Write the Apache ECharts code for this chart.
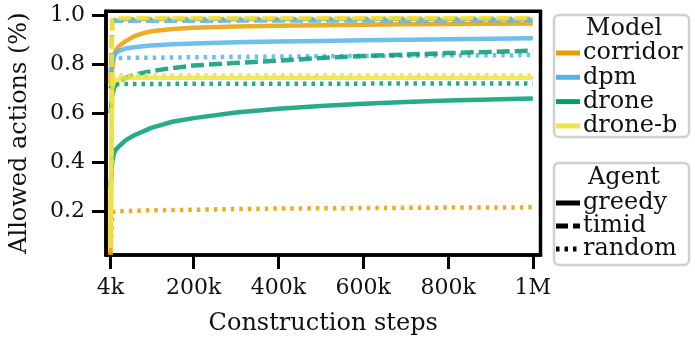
<!DOCTYPE html>
<html>
<head>
<meta charset="utf-8">
<script src="https://cdn.jsdelivr.net/npm/echarts@6/dist/echarts.min.js"></script>
<style>html,body{margin:0;padding:0;background:#fff;}#c{width:695px;height:341px;}</style>
</head>
<body>
<div id="c"></div>
<script>
// ---- data ----
const steps = [4000, 8000, 12000, 16000, 24000, 40000, 60000, 80000, 100000, 150000, 200000, 300000, 400000, 500000, 600000, 700000, 800000, 900000, 1000000];

const corridorGreedy = [0.02, 0.78, 0.83, 0.855, 0.875, 0.895, 0.915, 0.927, 0.935, 0.945, 0.950, 0.955, 0.958, 0.960, 0.962, 0.964, 0.965, 0.966, 0.967];
const corridorTimid  = [0.72, 0.975, 0.980, 0.982, 0.983, 0.984, 0.984, 0.985, 0.985, 0.985, 0.986, 0.986, 0.986, 0.986, 0.987, 0.987, 0.987, 0.987, 0.987];
const corridorRandom = [0.02, 0.195, 0.197, 0.198, 0.199, 0.200, 0.201, 0.202, 0.203, 0.204, 0.205, 0.208, 0.210, 0.211, 0.212, 0.213, 0.214, 0.214, 0.215];

const dpmGreedy = [0.77, 0.81, 0.83, 0.845, 0.855, 0.865, 0.870, 0.874, 0.877, 0.882, 0.885, 0.890, 0.893, 0.896, 0.899, 0.901, 0.903, 0.905, 0.907];
const dpmTimid  = [0.97, 0.976, 0.977, 0.977, 0.978, 0.978, 0.978, 0.978, 0.978, 0.978, 0.978, 0.979, 0.979, 0.979, 0.979, 0.979, 0.980, 0.980, 0.980];
const dpmRandom = [0.82, 0.825, 0.826, 0.826, 0.826, 0.826, 0.827, 0.827, 0.827, 0.828, 0.829, 0.830, 0.832, 0.833, 0.834, 0.835, 0.836, 0.837, 0.838];

const droneGreedy = [0.30, 0.40, 0.435, 0.45, 0.465, 0.49, 0.51, 0.525, 0.54, 0.565, 0.58, 0.603, 0.618, 0.630, 0.639, 0.646, 0.652, 0.656, 0.660];
const droneTimid  = [0.60, 0.67, 0.70, 0.715, 0.73, 0.745, 0.757, 0.765, 0.772, 0.785, 0.795, 0.806, 0.815, 0.826, 0.834, 0.840, 0.846, 0.851, 0.856];
const droneRandom = [0.70, 0.718, 0.719, 0.720, 0.720, 0.720, 0.720, 0.720, 0.720, 0.720, 0.721, 0.721, 0.721, 0.721, 0.721, 0.722, 0.722, 0.722, 0.722];

const dronebGreedy = [0.05, 0.70, 0.725, 0.735, 0.740, 0.743, 0.745, 0.745, 0.745, 0.745, 0.745, 0.745, 0.745, 0.745, 0.745, 0.745, 0.745, 0.745, 0.745];
const dronebTimid  = [0.20, 0.985, 0.988, 0.989, 0.990, 0.990, 0.990, 0.990, 0.990, 0.990, 0.990, 0.990, 0.990, 0.990, 0.990, 0.990, 0.990, 0.990, 0.990];
const dronebRandom = [0.05, 0.75, 0.753, 0.754, 0.755, 0.755, 0.755, 0.755, 0.755, 0.755, 0.755, 0.755, 0.755, 0.755, 0.755, 0.755, 0.755, 0.755, 0.755];

const models = ['corridor', 'dpm', 'drone', 'drone-b'];
const agents = ['greedy', 'timid', 'random'];
const modelColors = ['#E69F00', '#56B4E9', '#009E73', '#F0E442'];
const seriesValues = [
  [corridorGreedy, corridorTimid, corridorRandom],
  [dpmGreedy, dpmTimid, dpmRandom],
  [droneGreedy, droneTimid, droneRandom],
  [dronebGreedy, dronebTimid, dronebRandom]
];

const xTickValues = [4000, 200000, 400000, 600000, 800000, 1000000];
const xTickLabels = ['4k', '200k', '400k', '600k', '800k', '1M'];
const yTickValues = [0.2, 0.4, 0.6, 0.8, 1.0];
const yTickLabels = ['0.2', '0.4', '0.6', '0.8', '1.0'];

// ---- styling ----
const FONT = 'DejaVu Serif';
const dashStyles = { greedy: 'solid', timid: [13, 5], random: [3.5, 5] };
const LW = 4.5;

const gridL = 104.5, gridT = 11.3, gridW = 436, gridH = 254.2;

const series = [];
models.forEach((m, mi) => {
  agents.forEach((a, ai) => {
    series.push({
      name: m + ' ' + a,
      type: 'line',
      showSymbol: false,
      symbol: 'none',
      smooth: false,
      data: steps.map((s, i) => [s, seriesValues[mi][ai][i]]),
      lineStyle: { color: modelColors[mi], width: LW, type: dashStyles[a], cap: 'butt', opacity: 0.85 },
      z: 2,
      silent: true
    });
  });
});

// legend graphics
const graphics = [];
function legendBox(top, h) {
  graphics.push({ type: 'rect', shape: { x: 554, y: top, width: 135, height: h, r: 5 },
    style: { fill: '#fff', stroke: '#d0d0d0', lineWidth: 2.5 }, z: 10 });
}
const LFS = 24;
legendBox(15, 122);
graphics.push({ type: 'text', x: 624, y: 29, style: { text: 'Model', font: LFS + 'px "' + FONT + '"', fill: '#111', align: 'center', verticalAlign: 'middle' }, z: 11 });
models.forEach((m, i) => {
  const y = 53 + i * 24.3;
  graphics.push({ type: 'line', shape: { x1: 556, y1: y, x2: 580, y2: y }, style: { stroke: modelColors[i], lineWidth: 5 }, z: 11 });
  graphics.push({ type: 'text', x: 583, y: y, style: { text: m, font: LFS + 'px "' + FONT + '"', fill: '#111', align: 'left', verticalAlign: 'middle' }, z: 11 });
});
legendBox(163, 102);
graphics.push({ type: 'text', x: 624, y: 178, style: { text: 'Agent', font: LFS + 'px "' + FONT + '"', fill: '#111', align: 'center', verticalAlign: 'middle' }, z: 11 });
agents.forEach((a, i) => {
  const y = 203 + i * 23;
  const d = dashStyles[a];
  graphics.push({ type: 'line', shape: { x1: 556, y1: y, x2: 580, y2: y }, style: { stroke: '#000', lineWidth: 5, lineDash: d === 'solid' ? null : (a === 'timid' ? [12, 5] : [3.5, 5]) }, z: 11 });
  graphics.push({ type: 'text', x: 583, y: y, style: { text: a, font: LFS + 'px "' + FONT + '"', fill: '#111', align: 'left', verticalAlign: 'middle' }, z: 11 });
});

const chart = echarts.init(document.getElementById('c'), null, { renderer: 'canvas' });
chart.setOption({
  animation: false,
  backgroundColor: '#fff',
  grid: { left: gridL, top: gridT, width: gridW, height: gridH, show: true, borderColor: '#000', borderWidth: 3.5, containLabel: false },
  xAxis: {
    type: 'value', min: -6600, max: 1018000,
    name: 'Construction steps', nameLocation: 'middle', nameGap: 57,
    nameTextStyle: { fontFamily: FONT, fontSize: 24, color: '#111' },
    axisLine: { show: true, onZero: false, lineStyle: { color: '#000', width: 3.5 } },
    axisTick: { show: true, length: 14, lineStyle: { color: '#000', width: 3 }, customValues: xTickValues },
    axisLabel: { customValues: xTickValues, margin: 22, fontFamily: FONT, fontSize: 22, color: '#111',
      formatter: v => { const i = xTickValues.indexOf(v); return i >= 0 ? xTickLabels[i] : ''; } },
    splitLine: { show: false }
  },
  yAxis: {
    type: 'value', min: 0.02, max: 1.017,
    name: 'Allowed actions (%)', nameLocation: 'middle', nameGap: 74,
    nameTextStyle: { fontFamily: FONT, fontSize: 24, color: '#111' },
    axisLine: { show: true, onZero: false, lineStyle: { color: '#000', width: 3.5 } },
    axisTick: { show: true, length: 14, lineStyle: { color: '#000', width: 3 }, customValues: yTickValues },
    axisLabel: { customValues: yTickValues, margin: 21, fontFamily: FONT, fontSize: 22, color: '#111',
      formatter: v => { const i = yTickValues.findIndex(t => Math.abs(t - v) < 1e-9); return i >= 0 ? yTickLabels[i] : ''; } },
    splitLine: { show: false }
  },
  series: series,
  graphic: graphics
});
</script>
</body>
</html>
